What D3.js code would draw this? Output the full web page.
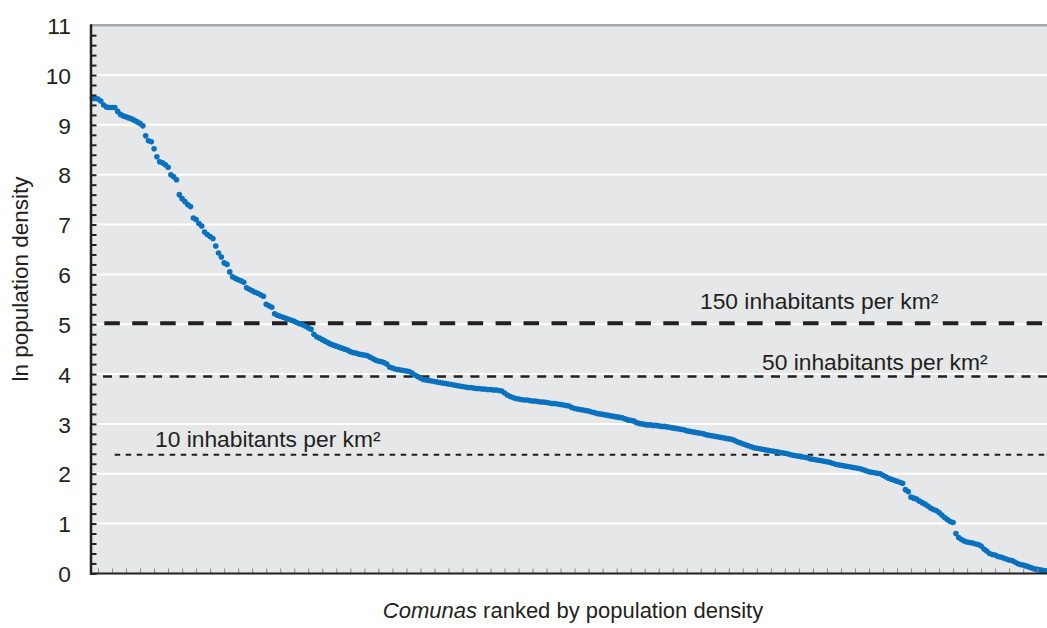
<!DOCTYPE html>
<html><head><meta charset="utf-8">
<script src="https://cdn.jsdelivr.net/npm/d3@7/dist/d3.min.js"></script>
<style>
html,body{margin:0;padding:0;background:#fff}
svg{display:block;font-family:"Liberation Sans",Arial,Helvetica,sans-serif}
</style>
</head><body>
<svg id="chart" width="1047" height="628"></svg>
<script>
// ln population density of each comuna, ranked
const lnDensity = [
9.53,9.53,9.52,9.48,9.40,9.36,9.35,9.35,9.35,9.27,
9.21,9.18,9.16,9.14,9.12,9.09,9.06,9.03,8.98,8.78,
8.68,8.66,8.52,8.36,8.26,8.24,8.20,8.15,8.00,7.96,
7.90,7.60,7.52,7.46,7.40,7.36,7.13,7.10,
7.02,6.97,6.85,6.80,6.76,6.72,6.57,6.43,6.35,6.23,6.20,
6.05,5.95,5.92,5.89,5.87,5.84,5.73,5.70,5.67,5.64,
5.62,5.59,5.56,5.40,5.37,5.34,5.21,5.18,5.16,5.14,
5.12,5.10,5.08,5.06,5.03,5.01,4.99,4.96,4.93,4.90,
4.80,4.75,4.72,4.69,4.66,4.63,4.60,4.58,4.56,4.54,
4.52,4.50,4.48,4.45,4.43,4.42,4.40,4.39,4.38,4.37,
4.34,4.31,4.28,4.26,4.25,4.23,
4.20,4.14,4.12,
4.10,4.09,4.08,4.07,4.06,4.05,4.02,3.98,3.95,3.92,
3.89,3.88,3.87,3.86,3.85,3.84,3.83,3.82,3.81,3.80,
3.79,3.78,3.77,3.76,3.75,3.74,3.73,3.73,3.72,3.71,
3.71,3.70,3.70,3.69,3.69,3.68,3.68,3.67,3.66,3.62,
3.58,3.55,3.53,3.51,3.50,3.49,3.48,3.48,3.47,3.46,
3.46,3.45,3.44,3.44,3.43,3.42,3.41,3.41,3.40,3.39,
3.38,3.37,3.36,3.33,3.31,3.30,3.29,3.28,3.27,3.26,
3.24,3.23,3.21,3.20,3.19,3.18,3.17,3.16,3.15,
3.14,3.13,3.12,3.10,3.08,3.07,3.06,3.03,3.01,3.00,
2.99,2.98,2.98,2.97,2.97,2.96,2.95,2.95,2.94,2.93,
2.92,2.91,2.90,2.89,2.88,2.86,2.85,2.84,2.83,2.82,
2.81,2.80,2.78,2.77,2.76,2.75,2.74,2.73,2.72,2.71,
2.70,2.69,2.67,2.64,2.62,2.60,2.58,2.56,2.54,2.52,
2.51,2.50,2.49,2.48,2.47,2.46,2.45,2.44,2.43,2.42,
2.41,2.40,
2.38,2.37,2.36,2.35,2.34,2.33,2.32,
2.30,2.29,2.28,2.27,2.26,2.25,2.24,2.23,2.21,2.19,
2.18,2.17,2.16,2.15,2.14,2.13,2.12,2.11,2.10,2.08,
2.06,2.04,2.03,2.02,2.01,2.00,1.97,1.94,1.91,1.89,
1.87,1.85,1.83,1.81,1.68,1.64,1.53,1.51,1.49,1.45,
1.42,1.39,1.35,1.31,1.28,1.26,1.22,1.17,1.12,1.08,
1.04,1.02,0.80,0.72,0.68,0.65,0.63,0.62,0.61,0.59,
0.58,0.55,0.49,0.45,0.40,0.38,0.37,
0.34,0.33,0.31,0.29,0.27,0.26,0.23,0.20,0.18,0.17,0.15,0.13,
0.11,0.09,0.08,0.07,0.06,0.05
];
const yTickValues = [0,1,2,3,4,5,6,7,8,9,10,11];
const yTickLabels = ["0","1","2","3","4","5","6","7","8","9","10","11"];
const refValues = [5.02, 3.95, 2.38];
const refLabels = ["150 inhabitants per km²", "50 inhabitants per km²", "10 inhabitants per km²"];
const xTitleItalic = "Comunas";
const xTitleRest = " ranked by population density";
const yTitle = "ln population density";

const svg = d3.select("#chart");
const L = 91, R = 1047, T = 25.2, B = 573.4;
const N = lnDensity.length;
const x = d3.scaleLinear().domain([0, N]).range([L, R]);
const y = d3.scaleLinear().domain([0, 11]).range([B, T]);
const ink = "#231f20";

// plot background
svg.append("rect").attr("x", L).attr("y", T).attr("width", R - L).attr("height", B - T).attr("fill", "#e6e7e8");

// white gridlines
svg.append("g").selectAll("line").data(yTickValues.filter(v => v > 0 && v < 11)).join("line")
  .attr("x1", L).attr("x2", R).attr("y1", d => y(d)).attr("y2", d => y(d))
  .attr("stroke", "#fff").attr("stroke-width", 2);

// top border
svg.append("line").attr("x1", L).attr("x2", R).attr("y1", y(11)).attr("y2", y(11))
  .attr("stroke", "#a7a9ac").attr("stroke-width", 2.5);

// reference lines
const refStyles = [
  {w: 4, dash: "15.5,12.45", x0: 104.3},
  {w: 2.4, dash: "9,7.7", x0: 103},
  {w: 2, dash: "5.5,5.5", x0: 114.7}
];
svg.append("g").selectAll("line").data(refValues).join("line")
  .attr("x1", (d, i) => refStyles[i].x0).attr("x2", R)
  .attr("y1", d => y(d)).attr("y2", d => y(d))
  .attr("stroke", ink).attr("stroke-width", (d, i) => refStyles[i].w)
  .attr("stroke-dasharray", (d, i) => refStyles[i].dash);

// reference labels
const labelPos = [{x: 700, dy: -14.5}, {x: 762, dy: -6.8}, {x: 155, dy: -7.6}];
svg.append("g").selectAll("text").data(refLabels).join("text")
  .attr("x", (d, i) => labelPos[i].x)
  .attr("y", (d, i) => y(refValues[i]) + labelPos[i].dy)
  .attr("font-size", 22.8).attr("fill", ink).text(d => d);

// dots
svg.append("g").selectAll("circle").data(lnDensity).join("circle")
  .attr("cx", (d, i) => x(i + 0.5)).attr("cy", d => y(d)).attr("r", 2.8)
  .attr("fill", "#0a71bf");

// x axis (minor ticks only)
const xTicks = d3.range(2.5, N, 5);
const xAxis = d3.axisBottom(x).tickValues(xTicks).tickSize(-5).tickFormat("");
const gx = svg.append("g").attr("transform", `translate(0,${B})`).call(xAxis);
gx.select(".domain").remove();
gx.selectAll(".tick line").attr("stroke", "#8a8c8e").attr("stroke-width", 1);
svg.append("line").attr("x1", L - 1).attr("x2", R).attr("y1", B).attr("y2", B)
  .attr("stroke", ink).attr("stroke-width", 2);

// y axis
const yMinor = d3.range(0, 55).map(k => k / 5);
const yAxisMinor = d3.axisLeft(y).tickValues(yMinor).tickSize(-5.5).tickFormat("");
const gy = svg.append("g").attr("transform", `translate(${L},0)`).call(yAxisMinor);
gy.select(".domain").remove();
gy.selectAll(".tick line").attr("stroke", ink).attr("stroke-width", 2);
svg.append("line").attr("x1", L).attr("x2", L).attr("y1", T - 1).attr("y2", B + 1.5)
  .attr("stroke", ink).attr("stroke-width", 2.5);

const yAxisLabels = d3.axisLeft(y).tickValues(yTickValues).tickSize(0).tickPadding(0)
  .tickFormat((d, i) => yTickLabels[i]);
const gyl = svg.append("g").attr("transform", `translate(71,0)`).call(yAxisLabels);
gyl.select(".domain").remove();
gyl.selectAll("text").attr("font-size", 22.8).attr("fill", ink)
  .attr("font-family", '"Liberation Sans",Arial,sans-serif').attr("dy", "0.36em");

// axis titles
const xt = svg.append("text").attr("x", 573).attr("y", 618).attr("text-anchor", "middle")
  .attr("font-size", 22).attr("fill", ink);
xt.append("tspan").attr("font-style", "italic").text(xTitleItalic);
xt.append("tspan").text(xTitleRest);

svg.append("text").attr("transform", "translate(28,279) rotate(-90)")
  .attr("text-anchor", "middle").attr("font-size", 22.5).attr("fill", ink).text(yTitle);
</script>
</body></html>
